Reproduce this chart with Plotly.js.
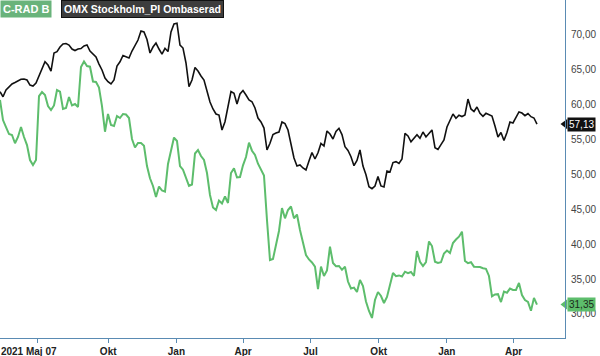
<!DOCTYPE html>
<html>
<head>
<meta charset="utf-8">
<script src="https://cdn.plot.ly/plotly-3.0.1.min.js"></script>
<style>html,body{margin:0;padding:0;background:#fff;}#chart{width:600px;height:356px;}</style>
</head>
<body>
<div id="chart"></div>
<script>
// Sampling: first observation date and spacing (days) between readings
const START = '2021-05-08';
const STEP_DAYS = 4.048;

// OMX Stockholm_PI rebased to C-RAD B
const omx = [
61.76,61.04,62.00,62.43,62.86,63.07,63.36,63.53,63.57,63.43,
62.71,62.57,63.00,64.00,65.14,66.04,65.57,64.71,67.29,67.47,
68.14,68.57,68.64,68.43,67.86,67.64,67.86,67.93,68.29,68.43,
67.57,67.14,66.71,65.71,64.86,63.71,63.19,62.86,63.43,65.43,
66.04,66.93,66.79,66.57,67.57,68.29,69.14,70.43,70.29,69.21,
67.29,68.14,68.71,67.86,67.14,67.96,67.50,70.29,71.43,71.53,
68.43,68.00,65.86,62.47,63.43,65.21,64.71,64.00,63.43,61.86,
60.29,59.29,58.57,58.43,56.29,57.47,59.71,61.79,61.53,60.00,
61.43,61.93,61.29,60.57,60.33,59.43,58.00,57.43,56.57,53.43,
54.39,55.64,55.86,56.00,57.43,57.21,56.29,54.29,52.29,51.14,
51.29,50.86,50.57,51.86,53.07,52.14,53.04,54.36,54.00,56.14,
55.71,55.00,56.07,56.53,55.64,53.90,53.36,52.47,51.19,51.93,
53.43,51.14,49.90,48.19,47.90,48.29,49.64,48.29,48.14,50.43,
50.29,51.64,51.76,51.50,52.14,55.81,55.43,54.60,55.17,55.61,
55.10,56.00,55.29,55.86,56.29,53.76,53.50,54.19,54.86,56.71,
57.71,58.57,57.96,58.39,58.21,58.43,60.71,59.29,58.93,59.57,
58.67,58.23,58.67,58.43,58.29,56.86,55.29,55.93,54.79,55.93,
57.43,57.29,58.00,58.86,58.71,58.33,58.64,58.19,58.00,57.13
];

// C-RAD B
const crad = [
60.57,57.71,56.71,55.71,55.57,54.39,55.29,56.71,55.29,54.14,
52.00,51.29,52.00,61.14,61.71,61.29,59.71,59.14,59.79,62.00,
61.76,59.29,59.43,61.00,59.79,60.00,59.57,65.29,66.07,65.43,
65.33,63.21,63.14,62.36,59.71,56.04,58.57,57.00,56.86,58.29,
58.00,58.57,58.50,58.00,55.00,53.79,54.43,54.43,54.04,51.14,
49.39,48.29,46.71,48.21,47.64,47.47,51.43,53.29,55.21,54.71,
51.14,50.61,49.57,48.29,48.50,52.93,53.43,52.57,52.00,50.14,
47.00,45.21,44.86,46.21,45.79,46.79,45.86,50.14,50.81,49.50,
49.57,51.24,52.43,54.47,53.33,52.71,51.47,50.71,49.79,43.43,
37.71,37.86,39.64,41.86,45.14,43.67,44.86,45.36,43.67,44.21,
42.00,40.36,38.43,37.79,37.36,36.76,33.57,36.76,35.43,36.21,
39.61,37.29,36.83,36.86,36.31,36.76,34.64,33.64,33.77,33.14,
34.86,34.00,31.79,30.43,29.43,32.00,33.14,32.57,31.57,32.43,
34.14,35.86,35.40,35.51,35.36,36.04,35.83,36.00,35.43,39.00,
37.47,36.86,37.43,40.36,39.71,37.47,37.29,37.39,38.64,39.07,
38.71,40.14,40.64,41.04,41.76,37.57,37.27,37.39,36.76,36.76,
36.71,36.54,36.46,35.43,32.51,32.79,32.83,31.71,33.19,33.04,
33.63,33.43,33.43,34.43,32.71,32.00,31.74,30.47,32.30,31.35
];

const tickDates = ['2021-06-27','2021-10-01','2022-01-01','2022-04-01','2022-07-01','2022-10-01','2023-01-01','2023-04-01'];
const tickLabels = ['2021 Maj 07\u00a0\u00a0\u00a0\u00a0\u00a0\u00a0','Okt','Jan','Apr','Jul','Okt','Jan','Apr'];
const yTicks = [30,35,40,45,50,55,60,65,70];
const X_RANGE = ['2021-05-08','2023-06-09 10:00'];
const Y_RANGE = [26.57, 74.86];

const GREEN = '#5dbd6c';
const BLACK = '#111111';
const AXIS = '#5a8bb3';
const FONT = 'Arial, "Liberation Sans", sans-serif';

const t0 = Date.parse(START + 'T00:00:00Z');
function fmt(ms){ return new Date(ms).toISOString().slice(0,19).replace('T',' '); }
const dates = omx.map((_, i) => fmt(t0 + i * STEP_DAYS * 86400000));

const lastOmx = omx[omx.length-1];
const lastCrad = crad[crad.length-1];
const comma = v => v.toFixed(2).replace('.', ',');

const traces = [
  {x: dates, y: crad, type: 'scatter', mode: 'lines', line: {color: GREEN, width: 2}, hoverinfo: 'skip'},
  {x: dates, y: omx, type: 'scatter', mode: 'lines', line: {color: BLACK, width: 1.6}, hoverinfo: 'skip'},
  {x: [X_RANGE[1], X_RANGE[1]], y: [lastOmx, lastCrad], type: 'scatter', mode: 'markers', cliponaxis: false,
   marker: {symbol: 'triangle-left', size: 9, color: [BLACK, GREEN], line: {width: 0}}, hoverinfo: 'skip'}
];

const layout = {
  width: 600, height: 356,
  margin: {l: 0, r: 35, t: 0, b: 18, pad: 0},
  paper_bgcolor: '#ffffff', plot_bgcolor: '#ffffff',
  showlegend: false,
  separators: ',.',
  font: {family: FONT, size: 10, color: '#333'},
  xaxis: {
    type: 'date', range: X_RANGE,
    tickmode: 'array', tickvals: tickDates, ticktext: tickLabels,
    showgrid: false, zeroline: false,
    showline: true, linecolor: AXIS, linewidth: 1,
    ticks: 'outside', ticklen: 4, tickcolor: AXIS, tickwidth: 1,
    tickfont: {family: FONT, size: 10, color: '#222', weight: 'bold'},
    fixedrange: true
  },
  yaxis: {
    side: 'right', range: Y_RANGE,
    tickmode: 'array', tickvals: yTicks, tickformat: '.2f',
    showgrid: false, zeroline: false,
    showline: true, linecolor: AXIS, linewidth: 1,
    ticks: '', ticklabelstandoff: 3,
    tickfont: {family: FONT, size: 10, color: '#444'},
    fixedrange: true
  },
  annotations: [
    {xref: 'paper', yref: 'paper', x: 0, y: 1, xanchor: 'left', yanchor: 'top', showarrow: false,
     text: '<b>C-RAD B</b>', bgcolor: '#69b37b', borderpad: 2,
     font: {family: FONT, size: 11, color: '#ffffff'}},
    {xref: 'paper', yref: 'paper', x: 0, y: 1, xshift: 61, xanchor: 'left', yanchor: 'top', showarrow: false,
     text: '<b>OMX Stockholm_PI Ombaserad</b>', bgcolor: '#3d3d3d', borderpad: 2,
     bordercolor: '#111111', borderwidth: 1,
     font: {family: FONT, size: 10.5, color: '#ffffff'}},
    {xref: 'paper', yref: 'y', x: 1, y: lastOmx, xshift: 2, xanchor: 'left', yanchor: 'middle', showarrow: false,
     text: comma(lastOmx), bgcolor: BLACK, borderpad: 1,
     font: {family: FONT, size: 10, color: '#ffffff'}},
    {xref: 'paper', yref: 'y', x: 1, y: lastCrad, xshift: 2, xanchor: 'left', yanchor: 'middle', showarrow: false,
     text: comma(lastCrad), bgcolor: GREEN, borderpad: 1,
     font: {family: FONT, size: 10, color: '#1b2b1b'}}
  ]
};

Plotly.newPlot('chart', traces, layout, {displayModeBar: false, staticPlot: true});
</script>
</body>
</html>
